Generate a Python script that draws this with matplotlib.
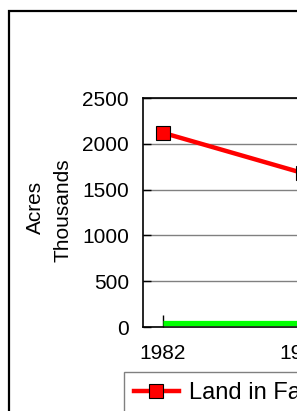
import matplotlib
matplotlib.use('Agg')
import matplotlib.pyplot as plt
from matplotlib.patches import Rectangle
from matplotlib.lines import Line2D

years = ['1982', '1987']
land_in_farms = [2120, 1680]
other_land = [40, 40]
yticks = [0, 500, 1000, 1500, 2000, 2500]
series_names = ['Land in Farms', 'Other Land']

plt.rcParams['font.family'] = ['Liberation Sans', 'DejaVu Sans']
FS = 15
LFS = 17

W, H = 297, 411
fig = plt.figure(figsize=(W / 100, H / 100), dpi=100)

# plot area (extends beyond the right edge, as in the cropped reference)
left, top, bottom = 143, 98, 327
spacing = 140
off = 20
width = off * 2 + spacing * (len(years) - 1)
ax = fig.add_axes([left / W, (H - bottom) / H, width / W, (bottom - top) / H])

x = list(range(len(years)))
ax.plot(x, other_land, color='#00ff00', lw=3.8, solid_capstyle='butt', zorder=3)
ax.plot(x, land_in_farms, color='#ff0000', lw=3.2, marker='s', ms=10,
        mfc='#ff0000', mec='black', mew=0.8, zorder=4)

ax.set_xlim(-off / spacing, len(years) - 1 + off / spacing)
ax.set_ylim(0, 2500)
ax.set_yticks(yticks)
ax.set_yticklabels([str(v) for v in yticks], fontsize=FS)
ax.set_xticks(x)
ax.set_xticklabels(years, fontsize=FS)
ax.tick_params(axis='y', direction='in', length=6, width=1, pad=10)
ax.tick_params(axis='x', direction='in', length=8.5, width=1, pad=12)
ax.yaxis.grid(True, color='#808080', lw=1)
ax.set_axisbelow(True)
for s in ax.spines.values():
    s.set_color('black')
    s.set_linewidth(1.2)

# axis titles
fig.text(35 / W, 1 - 207 / H, 'Acres', rotation=90, ha='center', va='center', fontsize=FS)
fig.text(63 / W, 1 - 210 / H, 'Thousands', rotation=90, ha='center', va='center', fontsize=FS)

# legend
handles = [
    Line2D([], [], color='#ff0000', lw=3.2, marker='s', ms=10, mfc='#ff0000', mec='black', mew=0.8),
    Line2D([], [], color='#00ff00', lw=3.8),
]
leg = fig.legend(handles, series_names, loc='upper left',
                 bbox_to_anchor=(124 / W, 1 - 372 / H), bbox_transform=fig.transFigure,
                 ncol=2, fontsize=LFS, frameon=True, fancybox=False, borderaxespad=0,
                 handlelength=1.9, handletextpad=0.42, borderpad=0.42, columnspacing=1.0)
leg.get_frame().set_edgecolor('#606060')
leg.get_frame().set_linewidth(1.0)

# outer chart border
fig.patches.append(Rectangle((9 / W, -0.1), 1.2, 1 - 11 / H + 0.1, transform=fig.transFigure,
                             fill=False, ec='black', lw=1.6))

fig.savefig('out.png', dpi=100)
